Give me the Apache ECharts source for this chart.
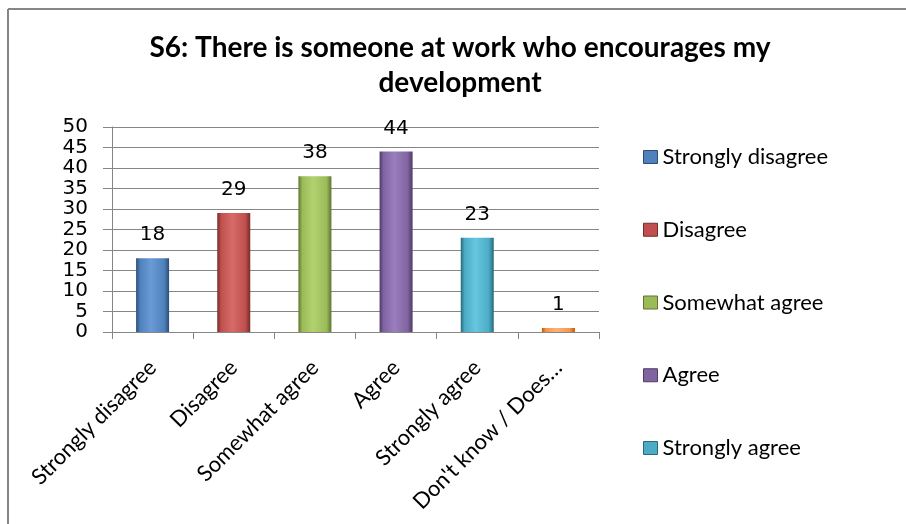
<!DOCTYPE html>
<html>
<head>
<meta charset="utf-8">
<script src="https://cdn.jsdelivr.net/npm/echarts@6/dist/echarts.min.js"></script>
<style>
  html, body { margin: 0; padding: 0; background: #fff; }
  #graph { width: 906px; height: 524px; }
</style>
</head>
<body>
<div id="graph"></div>
<script>
var categories = ['Strongly disagree', 'Disagree', 'Somewhat agree', 'Agree', 'Strongly agree', 'Don\'t know / Does\u2026'];
var values = [18, 29, 38, 44, 23, 1];
var legendNames = ['Strongly disagree', 'Disagree', 'Somewhat agree', 'Agree', 'Strongly agree'];
var yTicks = [0, 5, 10, 15, 20, 25, 30, 35, 40, 45, 50];

// base, dark edge, light centre
var colors = [
  ['#4f81bd', '#2c4d75', '#6a9bd6'],
  ['#c0504d', '#772c2a', '#d66b68'],
  ['#9bbb59', '#5f7530', '#b2d26f'],
  ['#8064a2', '#4d3b62', '#9a7ebd'],
  ['#4bacc6', '#276a7c', '#68c6df'],
  ['#f79646', '#b65708', '#fbb27a']
];

function barFill(c) {
  return new echarts.graphic.LinearGradient(0, 0, 1, 0, [
    { offset: 0, color: c[1] },
    { offset: 0.12, color: c[0] },
    { offset: 0.45, color: c[2] },
    { offset: 0.85, color: c[0] },
    { offset: 1, color: c[1] }
  ]);
}

var dom = document.getElementById('graph');
var myChart = echarts.init(dom);

var series = [];
for (var i = 0; i < categories.length; i++) {
  var d = categories.map(function () { return '-'; });
  d[i] = values[i];
  series.push({
    name: i < legendNames.length ? legendNames[i] : categories[i],
    type: 'bar',
    stack: 'all',
    barWidth: 33,
    data: d,
    itemStyle: { color: barFill(colors[i]) },
    label: {
      show: true,
      position: 'top',
      distance: 13,
      color: '#000',
      fontFamily: 'DejaVu Sans',
      fontSize: 20
    }
  });
}

var option = {
  animation: false,
  backgroundColor: '#fff',
  title: {
    text: 'S6: There is someone at work who encourages my\ndevelopment',
    left: 455,
    top: 25,
    textAlign: 'center',
    textStyle: {
      fontFamily: 'Lato',
      fontWeight: 'bold',
      fontSize: 28,
      lineHeight: 35,
      color: '#000'
    }
  },
  legend: {
    data: legendNames.map(function (n, k) {
      return { name: n, itemStyle: { color: colors[k][0], borderColor: colors[k][1], borderWidth: 1 } };
    }),
    orient: 'vertical',
    left: 638,
    top: 141,
    itemGap: 50.75,
    itemWidth: 14,
    itemHeight: 13,
    icon: 'rect',
    selectedMode: false,
    textStyle: { fontFamily: 'Lato', fontSize: 22, lineHeight: 20, color: '#000', padding: [0, 0, 0, 0] }
  },
  grid: { left: 112, right: 307, top: 127, bottom: 192 },
  xAxis: {
    type: 'category',
    data: categories,
    axisLine: { lineStyle: { color: '#868686' } },
    axisTick: { show: true, length: 7, lineStyle: { color: '#868686' } },
    axisLabel: {
      rotate: 45,
      margin: 32,
      interval: 0,
      color: '#000',
      fontFamily: 'Lato',
      fontSize: 22
    }
  },
  yAxis: {
    type: 'value',
    min: yTicks[0],
    max: yTicks[yTicks.length - 1],
    interval: yTicks[1] - yTicks[0],
    axisLine: { show: true, lineStyle: { color: '#868686' } },
    axisTick: { show: true, length: 9, lineStyle: { color: '#868686' } },
    splitLine: { lineStyle: { color: '#868686' } },
    axisLabel: {
      margin: 24,
      color: '#000',
      fontFamily: 'DejaVu Sans',
      fontSize: 20
    }
  },
  graphic: [
    { type: 'line', shape: { x1: 8, y1: 9, x2: 906, y2: 9 }, style: { stroke: '#868686', lineWidth: 2 } },
    { type: 'line', shape: { x1: 8, y1: 9, x2: 8, y2: 524 }, style: { stroke: '#868686', lineWidth: 2 } }
  ],
  series: series
};

myChart.setOption(option);
</script>
</body>
</html>
